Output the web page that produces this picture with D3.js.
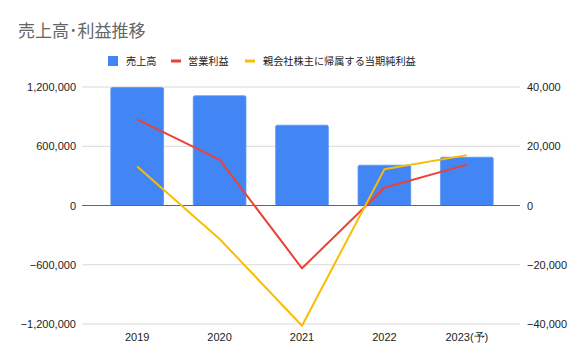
<!DOCTYPE html>
<html>
<head>
<meta charset="utf-8">
<script src="https://cdn.jsdelivr.net/npm/d3@7"></script>
<style>
  body { margin: 0; background: #fff; }
  svg { display: block; font-family: Roboto, 'Noto Sans CJK JP', sans-serif; }
</style>
</head>
<body>
<div id="chart"></div>
<script>
const years = ['2019', '2020', '2021', '2022', '2023(予)'];
const sales = [1195000, 1111000, 813000, 408000, 489000];
const operatingProfit = [29100, 15500, -21200, 6000, 13800];
const netProfit = [13200, -11300, -40600, 12200, 17000];
const leftTicks = [-1200000, -600000, 0, 600000, 1200000];
const rightTicks = [-40000, -20000, 0, 20000, 40000];
const seriesNames = ['売上高', '営業利益', '親会社株主に帰属する当期純利益'];
const colors = ['#4285f4', '#ea4335', '#fbbc04'];

const W = 586, H = 362;
const plot = {left: 82, right: 520, top: 87, bottom: 324};

const svg = d3.select('#chart').append('svg')
  .attr('width', W).attr('height', H);

// title
svg.append('text')
  .attr('x', 18).attr('y', 37)
  .attr('font-family', "'Noto Sans CJK JP', sans-serif")
  .attr('font-size', 17)
  .attr('fill', '#666')
  .text('売上高･利益推移');

// scales
const x = d3.scaleBand().domain(years).range([96, 508]).paddingInner(0.36).paddingOuter(0.18);
const yL = d3.scaleLinear().domain([-1200000, 1200000]).range([plot.bottom, plot.top]);
const yR = d3.scaleLinear().domain([-40000, 40000]).range([plot.bottom, plot.top]);
const fmt = d3.format(',');

// gridlines
svg.append('g').selectAll('line')
  .data(leftTicks.filter(d => d !== 0))
  .join('line')
  .attr('x1', plot.left).attr('x2', plot.right)
  .attr('y1', d => yL(d)).attr('y2', d => yL(d))
  .attr('stroke', '#d9d9d9').attr('stroke-width', 1);

// left axis labels
const leftAxis = d3.axisLeft(yL).tickValues(leftTicks).tickFormat(fmt).tickSize(0).tickPadding(6);
svg.append('g').attr('transform', `translate(${plot.left},0)`)
  .call(leftAxis)
  .call(g => g.select('.domain').remove())
  .selectAll('text').attr('font-size', 11).attr('fill', '#222');

// right axis labels
const rightAxis = d3.axisRight(yR).tickValues(rightTicks).tickFormat(fmt).tickSize(0).tickPadding(7);
svg.append('g').attr('transform', `translate(${plot.right},0)`)
  .call(rightAxis)
  .call(g => g.select('.domain').remove())
  .selectAll('text').attr('font-size', 11).attr('fill', '#222');

// bars
svg.append('g').selectAll('rect')
  .data(sales)
  .join('rect')
  .attr('x', (d, i) => x(years[i]))
  .attr('width', x.bandwidth())
  .attr('y', d => yL(Math.max(0, d)))
  .attr('height', d => Math.abs(yL(d) - yL(0)))
  .attr('rx', 1.5)
  .attr('fill', colors[0])
  .attr('stroke', '#5a95f5').attr('stroke-width', 0.8);

// zero line
svg.append('line')
  .attr('x1', plot.left).attr('x2', plot.right)
  .attr('y1', yL(0)).attr('y2', yL(0))
  .attr('stroke', '#666').attr('stroke-width', 1.2);

// lines
const line = d3.line()
  .x((d, i) => x(years[i]) + x.bandwidth() / 2)
  .y(d => yR(d));

[operatingProfit, netProfit].forEach((vals, k) => {
  svg.append('path')
    .datum(vals)
    .attr('d', line)
    .attr('fill', 'none')
    .attr('stroke', colors[k + 1])
    .attr('stroke-width', 2)
    .attr('stroke-linejoin', 'round');
});

// x axis labels
svg.append('g').attr('transform', `translate(0,${plot.bottom})`)
  .call(d3.axisBottom(x).tickSize(0).tickPadding(9))
  .call(g => g.select('.domain').remove())
  .selectAll('text').attr('font-size', 11).attr('fill', '#222');

// legend
const legend = svg.append('g')
  .attr('font-family', "'Noto Sans CJK JP', sans-serif")
  .attr('font-size', 10.2).attr('fill', '#222');
const items = [
  {x: 108, tx: 126, type: 'rect'},
  {x: 171, tx: 188, type: 'line'},
  {x: 245, tx: 263, type: 'line'}
];
items.forEach((it, i) => {
  if (it.type === 'rect') {
    legend.append('rect').attr('x', it.x).attr('y', 56).attr('width', 10).attr('height', 10)
      .attr('fill', colors[i]);
  } else {
    legend.append('line').attr('x1', it.x).attr('x2', it.x + 10).attr('y1', 61).attr('y2', 61)
      .attr('stroke', colors[i]).attr('stroke-width', 3);
  }
  legend.append('text').attr('x', it.tx).attr('y', 65).text(seriesNames[i]);
});
</script>
</body>
</html>
